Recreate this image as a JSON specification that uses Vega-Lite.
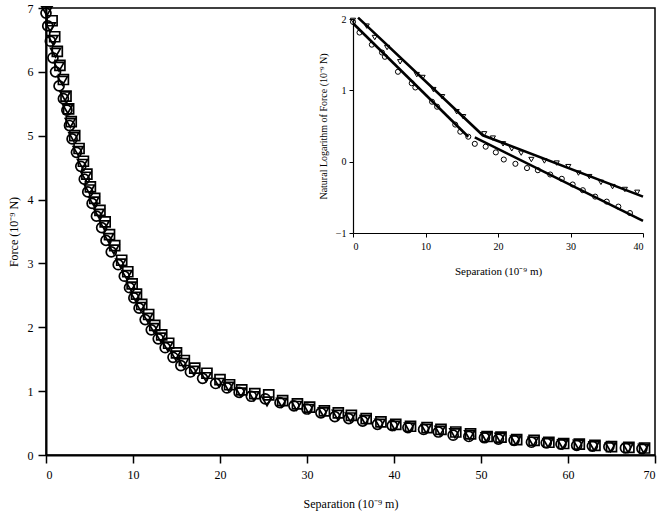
{
  "$schema": "https://vega.github.io/schema/vega-lite/v6.json",
  "width": 609,
  "height": 447,
  "autosize": "none",
  "padding": {"left": 46, "top": 8, "right": 9, "bottom": 56},
  "background": "white",
  "config": {
    "view": {"stroke": "black", "strokeWidth": 1.5},
    "font": "Liberation Serif",
    "axis": {"labelFont": "Liberation Serif", "titleFont": "Liberation Serif", "titleFontWeight": "normal", "grid": false, "domainColor": "black", "tickColor": "black", "labelColor": "black", "titleColor": "black", "zindex": 1}
  },
  "datasets": {
    "main": [
      {"s":"c","x":0.0,"f":6.92},{"s":"c","x":0.2,"f":6.72},{"s":"c","x":0.5,"f":6.48},{"s":"c","x":0.8,"f":6.22},{"s":"c","x":1.1,"f":6.0},{"s":"c","x":1.5,"f":5.78},{"s":"c","x":2.0,"f":5.58},{"s":"c","x":2.4,"f":5.4},{"s":"c","x":2.7,"f":5.16},{"s":"c","x":3.0,"f":4.95},{"s":"c","x":3.5,"f":4.74},{"s":"c","x":4.0,"f":4.52},{"s":"c","x":4.4,"f":4.32},{"s":"c","x":4.8,"f":4.12},{"s":"c","x":5.3,"f":3.94},{"s":"c","x":5.8,"f":3.74},{"s":"c","x":6.4,"f":3.56},{"s":"c","x":6.9,"f":3.36},{"s":"c","x":7.5,"f":3.18},{"s":"c","x":8.3,"f":2.98},{"s":"c","x":9.0,"f":2.8},{"s":"c","x":9.6,"f":2.62},{"s":"c","x":10.1,"f":2.46},{"s":"c","x":10.7,"f":2.3},{"s":"c","x":11.4,"f":2.12},{"s":"c","x":12.1,"f":1.96},{"s":"c","x":12.9,"f":1.82},{"s":"c","x":13.7,"f":1.68},{"s":"c","x":14.6,"f":1.53},{"s":"c","x":15.5,"f":1.4},{"s":"c","x":16.6,"f":1.3},{"s":"c","x":18.0,"f":1.2},{"s":"c","x":19.5,"f":1.12},{"s":"c","x":20.8,"f":1.05},{"s":"c","x":22.2,"f":0.98},{"s":"c","x":23.6,"f":0.92},{"s":"c","x":25.2,"f":0.88},{"s":"c","x":26.9,"f":0.82},{"s":"c","x":28.5,"f":0.77},{"s":"c","x":30.0,"f":0.72},{"s":"c","x":31.6,"f":0.66},{"s":"c","x":33.2,"f":0.6},{"s":"c","x":34.8,"f":0.57},{"s":"c","x":36.4,"f":0.53},{"s":"c","x":38.1,"f":0.48},{"s":"c","x":39.8,"f":0.46},{"s":"c","x":41.6,"f":0.43},{"s":"c","x":43.4,"f":0.4},{"s":"c","x":45.1,"f":0.36},{"s":"c","x":46.8,"f":0.31},{"s":"c","x":48.6,"f":0.29},{"s":"c","x":50.4,"f":0.27},{"s":"c","x":52.0,"f":0.25},{"s":"c","x":53.8,"f":0.23},{"s":"c","x":55.8,"f":0.2},{"s":"c","x":57.5,"f":0.19},{"s":"c","x":59.2,"f":0.17},{"s":"c","x":61.0,"f":0.15},{"s":"c","x":62.8,"f":0.14},{"s":"c","x":64.7,"f":0.13},{"s":"c","x":66.6,"f":0.11},{"s":"c","x":68.5,"f":0.1},
      {"s":"t","x":0.1,"f":6.95},{"s":"t","x":0.5,"f":6.7},{"s":"t","x":0.8,"f":6.5},{"s":"t","x":1.1,"f":6.3},{"s":"t","x":1.5,"f":6.08},{"s":"t","x":1.9,"f":5.86},{"s":"t","x":2.2,"f":5.62},{"s":"t","x":2.5,"f":5.42},{"s":"t","x":2.8,"f":5.2},{"s":"t","x":3.2,"f":4.98},{"s":"t","x":3.7,"f":4.76},{"s":"t","x":4.2,"f":4.56},{"s":"t","x":4.6,"f":4.36},{"s":"t","x":5.0,"f":4.16},{"s":"t","x":5.5,"f":3.97},{"s":"t","x":6.1,"f":3.78},{"s":"t","x":6.7,"f":3.6},{"s":"t","x":7.2,"f":3.4},{"s":"t","x":7.8,"f":3.22},{"s":"t","x":8.6,"f":3.0},{"s":"t","x":9.3,"f":2.82},{"s":"t","x":9.8,"f":2.64},{"s":"t","x":10.3,"f":2.48},{"s":"t","x":10.9,"f":2.32},{"s":"t","x":11.7,"f":2.15},{"s":"t","x":12.4,"f":1.99},{"s":"t","x":13.2,"f":1.84},{"s":"t","x":14.0,"f":1.7},{"s":"t","x":14.9,"f":1.56},{"s":"t","x":15.8,"f":1.44},{"s":"t","x":17.0,"f":1.32},{"s":"t","x":18.4,"f":1.22},{"s":"t","x":19.9,"f":1.13},{"s":"t","x":21.0,"f":1.07},{"s":"t","x":22.4,"f":0.98},{"s":"t","x":23.9,"f":0.92},{"s":"t","x":25.4,"f":0.84},{"s":"t","x":27.1,"f":0.82},{"s":"t","x":28.8,"f":0.77},{"s":"t","x":30.2,"f":0.72},{"s":"t","x":31.9,"f":0.67},{"s":"t","x":33.5,"f":0.63},{"s":"t","x":35.0,"f":0.59},{"s":"t","x":36.7,"f":0.55},{"s":"t","x":38.4,"f":0.49},{"s":"t","x":40.1,"f":0.46},{"s":"t","x":41.8,"f":0.43},{"s":"t","x":43.7,"f":0.41},{"s":"t","x":45.3,"f":0.38},{"s":"t","x":47.0,"f":0.34},{"s":"t","x":48.7,"f":0.31},{"s":"t","x":50.6,"f":0.28},{"s":"t","x":52.2,"f":0.27},{"s":"t","x":54.0,"f":0.23},{"s":"t","x":56.0,"f":0.21},{"s":"t","x":57.7,"f":0.19},{"s":"t","x":59.4,"f":0.17},{"s":"t","x":61.2,"f":0.16},{"s":"t","x":63.0,"f":0.14},{"s":"t","x":64.9,"f":0.12},{"s":"t","x":66.9,"f":0.11},{"s":"t","x":68.7,"f":0.1},
      {"s":"s","x":0.7,"f":6.8},{"s":"s","x":1.0,"f":6.55},{"s":"s","x":1.3,"f":6.32},{"s":"s","x":1.6,"f":6.1},{"s":"s","x":2.0,"f":5.88},{"s":"s","x":2.3,"f":5.62},{"s":"s","x":2.6,"f":5.42},{"s":"s","x":2.9,"f":5.22},{"s":"s","x":3.3,"f":5.0},{"s":"s","x":3.8,"f":4.8},{"s":"s","x":4.3,"f":4.6},{"s":"s","x":4.7,"f":4.4},{"s":"s","x":5.1,"f":4.2},{"s":"s","x":5.6,"f":4.02},{"s":"s","x":6.2,"f":3.83},{"s":"s","x":6.8,"f":3.65},{"s":"s","x":7.3,"f":3.45},{"s":"s","x":7.9,"f":3.28},{"s":"s","x":8.7,"f":3.05},{"s":"s","x":9.4,"f":2.87},{"s":"s","x":9.9,"f":2.68},{"s":"s","x":10.4,"f":2.52},{"s":"s","x":11.0,"f":2.36},{"s":"s","x":11.8,"f":2.2},{"s":"s","x":12.5,"f":2.03},{"s":"s","x":13.3,"f":1.88},{"s":"s","x":14.1,"f":1.75},{"s":"s","x":15.0,"f":1.6},{"s":"s","x":15.9,"f":1.48},{"s":"s","x":17.1,"f":1.36},{"s":"s","x":18.5,"f":1.28},{"s":"s","x":20.0,"f":1.18},{"s":"s","x":21.1,"f":1.1},{"s":"s","x":22.5,"f":1.02},{"s":"s","x":24.0,"f":0.96},{"s":"s","x":25.6,"f":0.94},{"s":"s","x":27.2,"f":0.85},{"s":"s","x":28.9,"f":0.8},{"s":"s","x":30.3,"f":0.75},{"s":"s","x":32.0,"f":0.69},{"s":"s","x":33.6,"f":0.66},{"s":"s","x":35.1,"f":0.62},{"s":"s","x":36.8,"f":0.57},{"s":"s","x":38.5,"f":0.52},{"s":"s","x":40.2,"f":0.48},{"s":"s","x":41.9,"f":0.45},{"s":"s","x":43.8,"f":0.43},{"s":"s","x":45.4,"f":0.4},{"s":"s","x":47.1,"f":0.36},{"s":"s","x":48.8,"f":0.33},{"s":"s","x":50.7,"f":0.29},{"s":"s","x":52.3,"f":0.28},{"s":"s","x":54.1,"f":0.24},{"s":"s","x":56.1,"f":0.23},{"s":"s","x":57.8,"f":0.2},{"s":"s","x":59.5,"f":0.18},{"s":"s","x":61.3,"f":0.17},{"s":"s","x":63.1,"f":0.15},{"s":"s","x":65.0,"f":0.13},{"s":"s","x":67.0,"f":0.12},{"s":"s","x":68.8,"f":0.11}
    ],
    "inset": [
      {"s":"c","x":0.0,"y":1.96},{"s":"c","x":0.9,"y":1.81},{"s":"c","x":2.6,"y":1.64},{"s":"c","x":4.0,"y":1.53},{"s":"c","x":4.4,"y":1.47},{"s":"c","x":6.2,"y":1.26},{"s":"c","x":8.1,"y":1.1},{"s":"c","x":8.6,"y":1.04},{"s":"c","x":10.9,"y":0.84},{"s":"c","x":11.6,"y":0.77},{"s":"c","x":14.1,"y":0.52},{"s":"c","x":14.8,"y":0.42},{"s":"c","x":15.9,"y":0.35},{"s":"c","x":16.8,"y":0.25},{"s":"c","x":18.3,"y":0.21},{"s":"c","x":19.7,"y":0.13},{"s":"c","x":20.8,"y":0.03},{"s":"c","x":22.4,"y":-0.03},{"s":"c","x":24.0,"y":-0.09},{"s":"c","x":25.5,"y":-0.12},{"s":"c","x":27.2,"y":-0.18},{"s":"c","x":28.8,"y":-0.24},{"s":"c","x":30.3,"y":-0.32},{"s":"c","x":31.7,"y":-0.4},{"s":"c","x":33.4,"y":-0.49},{"s":"c","x":35.0,"y":-0.56},{"s":"c","x":36.6,"y":-0.63},{"s":"c","x":38.2,"y":-0.72},
      {"s":"t","x":0.0,"y":1.98},{"s":"t","x":1.9,"y":1.9},{"s":"t","x":3.0,"y":1.74},{"s":"t","x":4.7,"y":1.6},{"s":"t","x":6.5,"y":1.4},{"s":"t","x":8.8,"y":1.22},{"s":"t","x":9.6,"y":1.18},{"s":"t","x":11.1,"y":1.01},{"s":"t","x":12.3,"y":0.91},{"s":"t","x":14.3,"y":0.7},{"s":"t","x":15.2,"y":0.63},{"s":"t","x":18.1,"y":0.39},{"s":"t","x":19.3,"y":0.33},{"s":"t","x":20.7,"y":0.25},{"s":"t","x":21.9,"y":0.18},{"s":"t","x":23.2,"y":0.12},{"s":"t","x":24.6,"y":0.03},{"s":"t","x":26.4,"y":0.01},{"s":"t","x":28.1,"y":-0.02},{"s":"t","x":29.7,"y":-0.07},{"s":"t","x":31.1,"y":-0.16},{"s":"t","x":32.6,"y":-0.21},{"s":"t","x":34.2,"y":-0.29},{"s":"t","x":35.8,"y":-0.35},{"s":"t","x":37.5,"y":-0.39},{"s":"t","x":39.2,"y":-0.43}
    ],
    "fit": [
      {"seg":"t","x":0.7,"y":2.02},{"seg":"t","x":17.9,"y":0.37},{"seg":"t","x":40.0,"y":-0.49},
      {"seg":"c1","x":0.0,"y":1.94},{"seg":"c1","x":15.9,"y":0.35},
      {"seg":"c2","x":16.8,"y":0.34},{"seg":"c2","x":40.0,"y":-0.83}
    ]
  },
  "layer": [
    {
      "data": {"name": "main"},
      "mark": {"type": "point", "filled": false, "color": "black", "strokeWidth": 1.7, "size": 100, "opacity": 1, "clip": false},
      "encoding": {
        "x": {"field": "x", "type": "quantitative", "scale": {"domain": [0, 70], "nice": false, "zero": false},
          "axis": {"orient": "bottom", "values": [0,10,20,30,40,50,60,70], "title": "Separation (10⁻⁹ m)", "domainWidth": 2, "tickWidth": 1.5, "tickSize": 8, "labelFontSize": 12, "labelPadding": 6, "titleFontSize": 12, "titlePadding": 18}},
        "y": {"field": "f", "type": "quantitative", "scale": {"domain": [0, 7], "nice": false, "zero": false},
          "axis": {"orient": "left", "values": [0,1,2,3,4,5,6,7], "title": "Force (10⁻⁹ N)", "domainWidth": 2, "tickWidth": 1.5, "tickSize": 8, "labelFontSize": 12, "labelPadding": 5, "titleFontSize": 12, "titlePadding": 7}},
        "shape": {"field": "s", "type": "nominal", "scale": {"domain": ["c", "s", "t"], "range": ["circle", "square", "triangle-down"]}, "legend": null}
      }
    },
    {
      "layer": [
        {
          "mark": {"type": "rect", "fill": "white", "stroke": "black", "strokeWidth": 1.2},
          "encoding": {
            "x": {"datum": 0, "type": "quantitative"},
            "x2": {"datum": 40},
            "y": {"datum": -1, "type": "quantitative"},
            "y2": {"datum": 2}
          }
        },
        {
          "data": {"name": "fit"},
          "mark": {"type": "line", "color": "black", "strokeWidth": 2.6},
          "encoding": {
            "x": {"field": "x", "type": "quantitative"},
            "y": {"field": "y", "type": "quantitative"},
            "detail": {"field": "seg"}
          }
        },
        {
          "data": {"name": "inset"},
          "mark": {"type": "point", "filled": false, "color": "black", "strokeWidth": 1, "size": 26, "opacity": 1},
          "encoding": {
            "x": {"field": "x", "type": "quantitative"},
            "y": {"field": "y", "type": "quantitative"},
            "shape": {"field": "s", "type": "nominal", "scale": {"domain": ["c", "s", "t"], "range": ["circle", "square", "triangle-down"]}, "legend": null}
          }
        }
      ],
      "encoding": {
        "x": {"type": "quantitative", "scale": {"domain": [0, 40], "range": [307, 597], "nice": false, "zero": false},
          "axis": {"orient": "bottom", "offset": -222, "values": [0,10,20,30,40], "title": "Separation (10⁻⁹ m)", "domainWidth": 1.2, "tickSize": 4, "labelFontSize": 10, "labelPadding": 4, "titleFontSize": 11, "titlePadding": 14}},
        "y": {"type": "quantitative", "scale": {"domain": [-1, 2], "range": [225, 11], "nice": false, "zero": false},
          "axis": {"orient": "left", "offset": -307, "values": [-1,0,1,2], "title": "Natural Logarithm of Force (10⁻⁹ N)", "domainWidth": 1.2, "tickSize": 4, "labelFontSize": 10, "labelPadding": 3, "titleFontSize": 10, "titlePadding": 7}}
      }
    }
  ],
  "resolve": {"scale": {"x": "independent", "y": "independent"}, "axis": {"x": "independent", "y": "independent"}}
}
